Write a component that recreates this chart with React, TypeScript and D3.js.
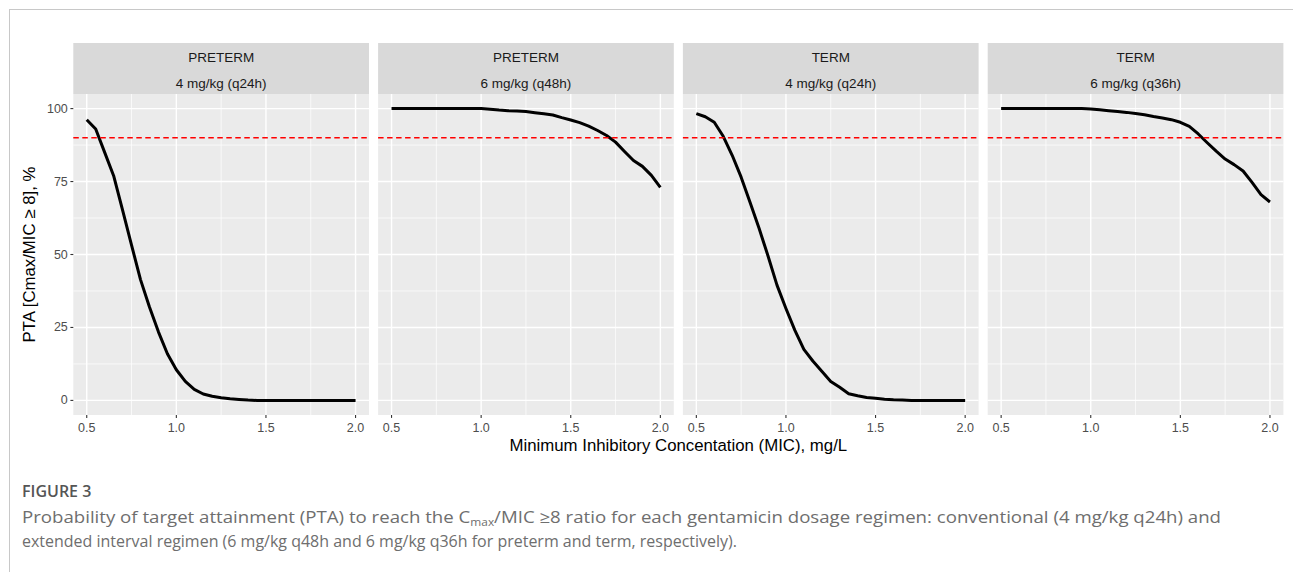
import React from "react";
import * as d3 from "d3";

// ---------- data ----------
const MIC = [0.5, 0.55, 0.6, 0.65, 0.7, 0.75, 0.8, 0.85, 0.9, 0.95, 1.0, 1.05, 1.1, 1.15, 1.2, 1.25, 1.3, 1.35, 1.4, 1.45, 1.5, 1.55, 1.6, 1.65, 1.7, 1.75, 1.8, 1.85, 1.9, 1.95, 2.0];

const POPULATIONS = ["PRETERM", "PRETERM", "TERM", "TERM"];
const REGIMENS = ["4 mg/kg (q24h)", "6 mg/kg (q48h)", "4 mg/kg (q24h)", "6 mg/kg (q36h)"];

const PTA_PRETERM_4_Q24 = [96.2, 93.0, 85.0, 77.0, 65.2, 53.2, 41.4, 32.0, 23.5, 16.0, 10.5, 6.5, 3.8, 2.2, 1.4, 0.9, 0.55, 0.3, 0.1, 0, 0, 0, 0, 0, 0, 0, 0, 0, 0, 0, 0];
const PTA_PRETERM_6_Q48 = [100, 100, 100, 100, 100, 100, 100, 100, 100, 100, 100, 99.8, 99.5, 99.3, 99.2, 99.0, 98.6, 98.2, 97.8, 96.9, 96.1, 95.2, 94.0, 92.5, 90.8, 88.5, 85.3, 82.2, 80.2, 77.1, 73.0];
const PTA_TERM_4_Q24 = [98.3, 97.2, 95.3, 90.5, 84.0, 76.5, 67.8, 59.0, 49.5, 39.5, 31.5, 24.0, 17.5, 13.5, 10.0, 6.5, 4.5, 2.3, 1.6, 1.0, 0.7, 0.4, 0.2, 0.1, 0, 0, 0, 0, 0, 0, 0];
const PTA_TERM_6_Q36 = [100, 100, 100, 100, 100, 100, 100, 100, 100, 100, 99.9, 99.6, 99.3, 99.0, 98.7, 98.3, 97.9, 97.3, 96.8, 96.2, 95.3, 93.9, 91.3, 88.3, 85.4, 82.7, 80.8, 78.6, 74.7, 70.5, 68.0];

const SERIES = [PTA_PRETERM_4_Q24, PTA_PRETERM_6_Q48, PTA_TERM_4_Q24, PTA_TERM_6_Q36];

const X_TICKS = [0.5, 1.0, 1.5, 2.0];
const X_MINOR = [0.75, 1.25, 1.75];
const Y_TICKS = [0, 25, 50, 75, 100];
const Y_MINOR = [12.5, 37.5, 62.5, 87.5];
const TARGET = 90;

const X_TITLE = "Minimum Inhibitory Concentation (MIC), mg/L";
const Y_TITLE = "PTA [Cmax/MIC \u2265 8], %";

// ---------- layout ----------
const W = 1293;
const H = 572;
const PANEL_LEFT0 = 73.3;
const PANEL_W = 295.7;
const PANEL_STEP = 304.8;
const STRIP_TOP = 43;
const PANEL_TOP = 94;
const PANEL_BOTTOM = 415;

const FONT = "Liberation Sans, Arial, Helvetica, sans-serif";
const CAP_FONT = "Open Sans, sans-serif";

export default function App() {
  const y = d3.scaleLinear().domain([-5, 105]).range([PANEL_BOTTOM, PANEL_TOP]);

  const panels = SERIES.map((vals, i) => {
    const left = PANEL_LEFT0 + i * PANEL_STEP;
    const x = d3.scaleLinear().domain([0.425, 2.075]).range([left, left + PANEL_W]);
    const line = d3
      .line<number>()
      .x((_, j) => x(MIC[j]))
      .y((d) => y(d));
    return (
      <g key={i}>
        {/* strip */}
        <rect x={left} y={STRIP_TOP} width={PANEL_W} height={PANEL_TOP - STRIP_TOP} fill="#D9D9D9" />
        <text x={left + PANEL_W / 2} y={57.5} textAnchor="middle" dominantBaseline="central" fontSize={13.5} fill="#1A1A1A" fontFamily={FONT}>
          {POPULATIONS[i]}
        </text>
        <text x={left + PANEL_W / 2} y={83} textAnchor="middle" dominantBaseline="central" fontSize={13.5} fill="#1A1A1A" fontFamily={FONT}>
          {REGIMENS[i]}
        </text>
        {/* panel */}
        <rect x={left} y={PANEL_TOP} width={PANEL_W} height={PANEL_BOTTOM - PANEL_TOP} fill="#EBEBEB" />
        {Y_MINOR.map((t) => (
          <line key={"ym" + t} x1={left} x2={left + PANEL_W} y1={y(t)} y2={y(t)} stroke="#fff" strokeWidth={0.7} />
        ))}
        {X_MINOR.map((t) => (
          <line key={"xm" + t} x1={x(t)} x2={x(t)} y1={PANEL_TOP} y2={PANEL_BOTTOM} stroke="#fff" strokeWidth={0.7} />
        ))}
        {Y_TICKS.map((t) => (
          <line key={"yM" + t} x1={left} x2={left + PANEL_W} y1={y(t)} y2={y(t)} stroke="#fff" strokeWidth={1.4} />
        ))}
        {X_TICKS.map((t) => (
          <line key={"xM" + t} x1={x(t)} x2={x(t)} y1={PANEL_TOP} y2={PANEL_BOTTOM} stroke="#fff" strokeWidth={1.4} />
        ))}
        <path d={line(vals) || ""} fill="none" stroke="#000" strokeWidth={3} strokeLinejoin="round" strokeLinecap="butt" />
        <line x1={left} x2={left + PANEL_W} y1={y(TARGET)} y2={y(TARGET)} stroke="#FF0000" strokeWidth={1.5} strokeDasharray="5.5 3.5" />
        {/* x axis */}
        {X_TICKS.map((t) => (
          <g key={"xt" + t}>
            <line x1={x(t)} x2={x(t)} y1={PANEL_BOTTOM} y2={PANEL_BOTTOM + 2.9} stroke="#333" strokeWidth={1.1} />
            <text x={x(t)} y={428} textAnchor="middle" dominantBaseline="central" fontSize={12.5} fill="#4D4D4D" fontFamily={FONT}>
              {t.toFixed(1)}
            </text>
          </g>
        ))}
      </g>
    );
  });

  return (
    <svg width={W} height={H} style={{ position: "absolute", left: 0, top: 0, background: "#fff" }}>
      <rect x={9.5} y={9.5} width={W + 20} height={H + 20} fill="none" stroke="#C8C8C8" strokeWidth={1} />
      {panels}
      {/* y axis */}
      {Y_TICKS.map((t) => (
        <g key={"yt" + t}>
          <line x1={PANEL_LEFT0 - 2.9} x2={PANEL_LEFT0} y1={y(t)} y2={y(t)} stroke="#333" strokeWidth={1.1} />
          <text x={PANEL_LEFT0 - 5.5} y={y(t)} textAnchor="end" dominantBaseline="central" fontSize={12.5} fill="#4D4D4D" fontFamily={FONT}>
            {t}
          </text>
        </g>
      ))}
      <text
        transform={`translate(29,${(PANEL_TOP + PANEL_BOTTOM) / 2}) rotate(-90)`}
        textAnchor="middle"
        dominantBaseline="central"
        fontSize={16.8}
        fill="#000"
        fontFamily={FONT}
      >
        {Y_TITLE}
      </text>
      <text x={(PANEL_LEFT0 + PANEL_LEFT0 + 3 * PANEL_STEP + PANEL_W) / 2} y={451} textAnchor="middle" fontSize={16.8} fill="#000" fontFamily={FONT}>
        {X_TITLE}
      </text>
      {/* caption */}
      <text x={22} y={497} fontSize={16} fontWeight={600} fill="#555" fontFamily={CAP_FONT}>
        FIGURE 3
      </text>
      <text x={22} y={523} fontSize={16.5} fill="#6E6E6E" fontFamily={CAP_FONT} textLength={1199} lengthAdjust="spacingAndGlyphs">
        Probability of target attainment (PTA) to reach the C
        <tspan fontSize={10.5} dy={3}>max</tspan>
        <tspan dy={-3}>/MIC ≥8 ratio for each gentamicin dosage regimen: conventional (4 mg/kg q24h) and</tspan>
      </text>
      <text x={22} y={547} fontSize={16.5} fill="#6E6E6E" fontFamily={CAP_FONT} textLength={715} lengthAdjust="spacingAndGlyphs">
        extended interval regimen (6 mg/kg q48h and 6 mg/kg q36h for preterm and term, respectively).
      </text>
    </svg>
  );
}
